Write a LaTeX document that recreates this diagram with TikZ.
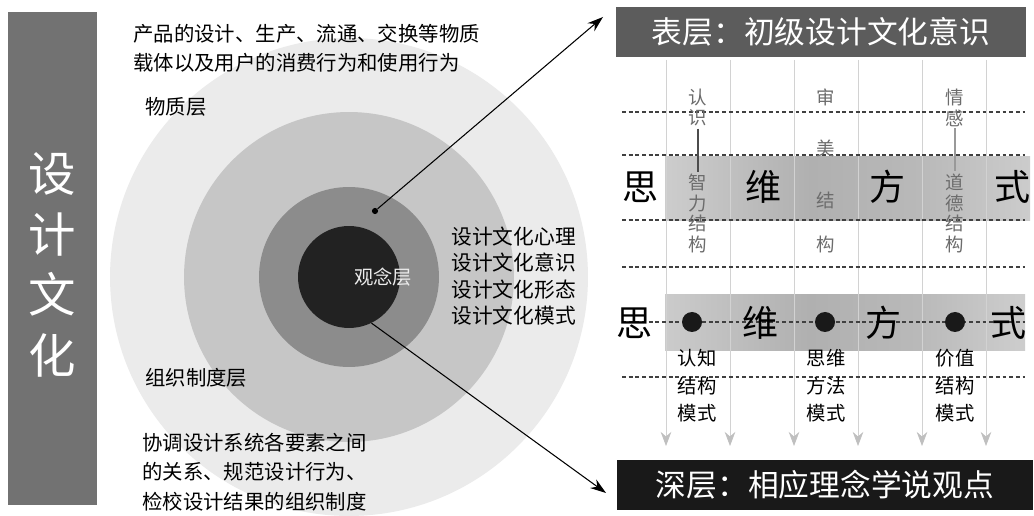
\documentclass[tikz,border=0pt]{standalone}
\usepackage{fontspec}
\setmainfont{Noto Sans CJK SC}
\usetikzlibrary{arrows.meta,positioning}
\definecolor{barGray}{HTML}{727272}
\definecolor{hdrGray}{HTML}{5C5C5C}
\definecolor{ringA}{HTML}{EBEBEB}
\definecolor{ringB}{HTML}{C6C6C6}
\definecolor{ringC}{HTML}{8C8C8C}
\definecolor{ringD}{HTML}{222222}
\pgfdeclarehorizontalshading{bandTop}{100bp}{color(0bp)=(gray!22); color(15bp)=(gray!28); color(45bp)=(gray!62); color(60bp)=(gray!55); color(85bp)=(gray!30); color(100bp)=(gray!18)}
\pgfdeclarehorizontalshading{bandLow}{100bp}{color(0bp)=(gray!22); color(15bp)=(gray!30); color(45bp)=(gray!62); color(60bp)=(gray!55); color(85bp)=(gray!28); color(100bp)=(gray!8)}
\begin{document}
\begin{tikzpicture}[x=0.02cm, y=-0.02cm, node distance=1cm,
                    auto, ring/.style = {circle, inner sep=0pt},
                    lbl/.style = {font=\fontsize{11.6}{16.8}\selectfont, align=left, anchor=west, inner sep=0pt},
                    hdr/.style = {text=white, font=\fontsize{17.5}{20}\selectfont, inner sep=0pt, minimum height=1cm},
                    big/.style = {font=\fontsize{20.5}{21}\selectfont, inner sep=0pt},
                    thinlbl/.style = {font=\fontsize{10.5}{11.9}\selectfont, text=gray!85!black, align=center, inner sep=1pt},
                    mode/.style = {font=\fontsize{11}{15.6}\selectfont, align=center, inner sep=0pt},
                    bead/.style = {circle, fill=black!90, inner sep=0pt, minimum size=0.4cm},
                    link/.style = {-{Stealth[length=9pt,width=6pt]}, line width=0.6pt},
                    guide/.style = {gray!35, line width=0.4pt, -{Stealth[length=8pt,width=6pt,color=gray!50]}},
                    dashline/.style = {black!75, line width=0.6pt, dash pattern=on 2.2pt off 1.6pt}]
\fill[white] (0,0) rectangle (1034,516);
\useasboundingbox (0,0) rectangle (1034,516);
% title bar
\node[fill=barGray, minimum width=1.78cm, minimum height=9.86cm, inner sep=0pt] (bar) at (52.5,258.5) {};
\node[text=white, font=\fontsize{27}{34.6}\selectfont, align=center] (title) at (52,265) {设\\计\\文\\化};
% rings
\node[ring, fill=ringA, minimum size=9.56cm] (outer) at (349,277) {};
\node[ring, fill=ringB, minimum size=6.6cm] (mid) at (349,277) {};
\node[ring, fill=ringC, minimum size=3.6cm] (inner) at (349,277) {};
\node[ring, fill=ringD, minimum size=2.04cm] (core) at (349,277) {};
\node[font=\fontsize{11}{12}\selectfont, text=gray!15] (idea) at (383,277) {观念层};
\node[circle, fill=black, inner sep=0pt, minimum size=3.5pt] (pin) at (375,211) {};
% left texts
\node[lbl] (matter) at (133,48) {产品的设计、生产、流通、交换等物质\\载体以及用户的消费行为和使用行为};
\node[lbl] (matterlayer) at (145,107) {物质层};
\node[lbl] (orglayer) at (145,378) {组织制度层};
\node[lbl] (org) at (142,472) {协调设计系统各要素之间\\的关系、规范设计行为、\\检校设计结果的组织制度};
\node[lbl, font=\fontsize{11.8}{15.1}\selectfont] (forms) at (451,276) {设计文化心理\\设计文化意识\\设计文化形态\\设计文化模式};
% bands
\shade[shading=bandTop] (665,157) rectangle (1030,221);
\shade[shading=bandLow] (665,295) rectangle (1025,351);
% grid
\draw[guide] (666,60) -- (666,446);
\draw[guide] (730,60) -- (730,446);
\draw[guide] (794,60) -- (794,446);
\draw[guide] (858,60) -- (858,446);
\draw[guide] (922,60) -- (922,446);
\draw[guide] (986,60) -- (986,446);
\draw[dashline] (622,112) -- (1025,112);
\draw[dashline] (622,155) -- (1025,155);
\draw[dashline] (622,220) -- (1025,220);
\draw[dashline] (622,267) -- (1025,267);
\draw[dashline] (622,322) -- (1025,322);
\draw[dashline] (622,377) -- (1025,377);
% boxes
\node[hdr, fill=hdrGray, minimum width=8.2cm] (surface) at (821,32) {表层：初级设计文化意识};
\node[hdr, fill=black!90, minimum width=8.32cm] (deep) at (825,485) {深层：相应理念学说观点};
% upper row
\node[thinlbl] (renshi) at (698,107.5) {认\\识};
\node[thinlbl] (zhili) at (698,213.5) {智\\力\\结\\构};
\draw[black!70, line width=0.7pt] (renshi) -- (zhili);
\node[thinlbl] (shen) at (826,97) {审};
\node[thinlbl] (mei) at (826,148) {美};
\node[thinlbl] (jie) at (826,200) {结};
\node[thinlbl] (gou) at (826,245) {构};
\node[thinlbl] (qinggan) at (955,107.5) {情\\感};
\node[thinlbl] (daode) at (955,213.5) {道\\德\\结\\构};
\draw[gray!80, line width=0.7pt] (qinggan) -- (daode);
\node[big] (si1) at (640,187) {思};
\node[big] (wei1) at (763,187) {维};
\node[big] (fang1) at (887,187) {方};
\node[big] (shi1) at (1012,187) {式};
% lower row
\node[big] (si2) at (635,323) {思};
\node[big] (wei2) at (760,323) {维};
\node[big] (fang2) at (883,323) {方};
\node[big] (shi2) at (1008,323) {式};
\node[bead] (b1) at (692,322) {};
\node[bead] (b2) at (825,322) {};
\node[bead] (b3) at (955,322) {};
\node[mode] (m1) at (697,386) {认知\\结构\\模式};
\node[mode] (m2) at (826,386) {思维\\方法\\模式};
\node[mode] (m3) at (955,386) {价值\\结构\\模式};
% arrows
\coordinate (tipA) at (603,17);
\coordinate (tipB) at (606,493);
\draw[link] (pin) -- (tipA);
\draw[link] (core.-64) -- (tipB);
\end{tikzpicture}
\end{document}
